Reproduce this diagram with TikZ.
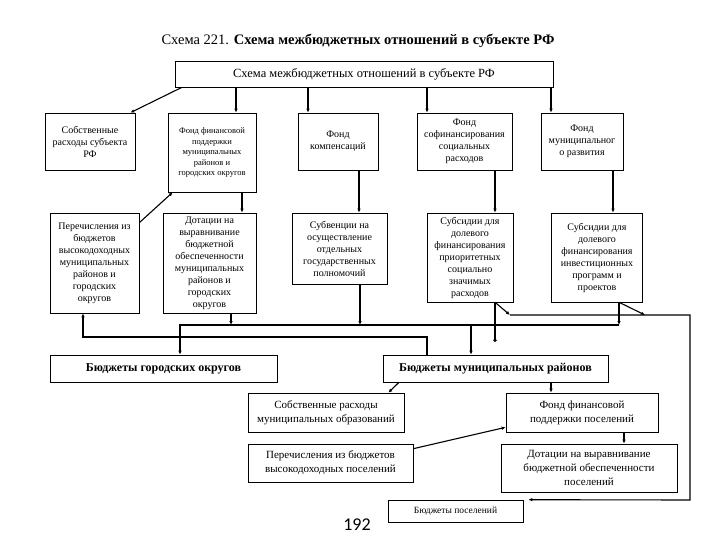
\documentclass[tikz,border=0pt]{standalone}
\usepackage{fontspec}
\setmainfont{Liberation Serif}
\newfontfamily\pagefont{Carlito}
\usetikzlibrary{arrows.meta}
\begin{document}
\begin{tikzpicture}[x=1pt,y=-1pt]
	\tikzstyle{box}=[draw, line width=0.6pt, align=center, inner sep=1pt, font=\fontsize{10}{12}\selectfont]
	\tikzstyle{arr}=[line width=1.1pt, -{Latex[length=4pt,width=3.5pt]}]
	\tikzstyle{line}=[line width=1.1pt]
	\useasboundingbox (0,0) rectangle (720,540);
	\node[font=\fontsize{14.5}{17}\selectfont] (title) at (358,41) {Схема 221. \textbf{Схема межбюджетных отношений в субъекте РФ}};
	\node[box, minimum width=378pt, minimum height=26pt, font=\fontsize{12.5}{14}\selectfont] (shema) at (364,74) {Схема межбюджетных отношений в субъекте РФ};
	% first row
	\node[box, minimum width=90pt, minimum height=57pt] (sobst) at (90,141.5) {Собственные\\расходы субъекта\\РФ};
	\node[box, minimum width=88pt, minimum height=79pt, font=\fontsize{8.5}{10.5}\selectfont] (ffpmr) at (212,152.5) {Фонд финансовой\\поддержки\\муниципальных\\районов и\\городских округов};
	\node[box, minimum width=80pt, minimum height=57pt] (fk) at (338,141.5) {Фонд\\компенсаций};
	\node[box, minimum width=95pt, minimum height=57pt] (fsr) at (464.5,141.5) {Фонд\\софинансирования\\социальных\\расходов};
	\node[box, minimum width=82pt, minimum height=57pt] (fmr) at (582,141.5) {Фонд\\муниципальног\\о развития};
	% second row
	\node[box, minimum width=89pt, minimum height=100pt] (perech) at (94.5,263) {Перечисления из\\бюджетов\\высокодоходных\\муниципальных\\районов и\\городских\\округов};
	\node[box, minimum width=93pt, minimum height=100pt] (dot) at (209.5,263) {Дотации на\\выравнивание\\бюджетной\\обеспеченности\\муниципальных\\районов и\\городских\\округов};
	\node[box, minimum width=95pt, minimum height=71pt] (subv) at (339.5,248.5) {Субвенции на\\осуществление\\отдельных\\государственных\\полномочий};
	\node[box, minimum width=86pt, minimum height=89pt] (subsoc) at (470,257.5) {Субсидии для\\долевого\\финансирования\\приоритетных\\социально\\значимых\\расходов};
	\node[box, minimum width=91pt, minimum height=89pt] (subinv) at (597,257.5) {Субсидии для\\долевого\\финансирования\\инвестиционных\\программ и\\проектов};
	% budgets
	\node[box, minimum width=227pt, minimum height=27pt, font=\fontsize{12}{14}\selectfont\bfseries] (bgo) at (163.5,368.5) {Бюджеты городских округов};
	\node[box, minimum width=225pt, minimum height=27pt, font=\fontsize{12}{14}\selectfont\bfseries] (bmr) at (495.5,368.5) {Бюджеты муниципальных районов};
	\node[box, minimum width=156pt, minimum height=39pt, font=\fontsize{11}{14}\selectfont] (srmo) at (326,412.5) {Собственные расходы\\муниципальных образований};
	\node[box, minimum width=152pt, minimum height=39pt, font=\fontsize{11}{14}\selectfont] (ffpp) at (582,412.5) {Фонд финансовой\\поддержки поселений};
	\node[box, minimum width=165pt, minimum height=38pt, font=\fontsize{11}{14}\selectfont] (perpos) at (330.5,463) {Перечисления из бюджетов\\высокодоходных поселений};
	\node[box, minimum width=176pt, minimum height=48pt, font=\fontsize{11}{14}\selectfont] (dotpos) at (589,468) {Дотации на выравнивание\\бюджетной обеспеченности\\поселений};
	\node[box, minimum width=135pt, minimum height=22pt, font=\fontsize{9.5}{10}\selectfont] (bpos) at (455.5,511) {Бюджеты поселений};
	\node[font=\pagefont\fontsize{18}{20}\selectfont] (page) at (357,525) {192};
	% junctions
	\coordinate (sbor) at (619,325);
	\coordinate (vozvr) at (427,337);
	\coordinate (soc) at (510,315);
	\coordinate (inv) at (645,315);
	\coordinate (tochka) at (495,342);
	% from the top box
	\draw[arr] (182,0 |- shema.south) -- ([xshift=-5pt]sobst.north east);
	\draw[arr] (236,0 |- shema.south) -- (236,0 |- ffpmr.north);
	\draw[arr] (308,0 |- shema.south) -- (308,0 |- fk.north);
	\draw[arr] (427,0 |- shema.south) -- (427,0 |- fsr.north);
	\draw[arr] (551,0 |- shema.south) -- (551,0 |- fmr.north);
	% first row to second row
	\draw[arr] ([yshift=-10pt]perech.north east) -- ([xshift=5pt]ffpmr.south west);
	\draw[arr] (242,0 |- ffpmr.south) -- (242,0 |- dot.north);
	\draw[arr] (359,0 |- fk.south) -- (359,0 |- subv.north);
	\draw[arr] (495,0 |- fsr.south) -- (495,0 |- subsoc.north);
	\draw[arr] (613,0 |- fmr.south) -- (613,0 |- subinv.north);
	% second row to budgets
	\draw[arr] (619,0 |- subinv.south) -- (sbor);
	\draw[arr] (sbor) -- (180,0 |- sbor) -- (180,0 |- bgo.north);
	\draw[arr] (231,0 |- dot.south) -- (231,0 |- sbor);
	\draw[arr] (360,0 |- subv.south) -- (360,0 |- sbor);
	\draw[arr] (471,0 |- sbor) -- (471,0 |- bmr.north);
	\draw[arr] (vozvr |- bmr.north) -- (vozvr) -- (83,0 |- vozvr) -- (83,0 |- perech.south);
	\draw[line, -{Circle[length=3.5pt]}] (495,0 |- subsoc.south) -- (tochka);
	\draw[arr] (495,0 |- subsoc.south) -- (soc);
	\draw[arr] (619,0 |- subinv.south) -- (inv);
	\draw[arr] (soc) -- (690,0 |- soc) -- (690,500) -- ([xshift=5pt]bpos.north east);
	% district budgets
	\draw[arr] (399,0 |- bmr.south) -- ([xshift=-16pt]srmo.north east);
	\draw[arr] (551,0 |- bmr.south) -- (551,0 |- ffpp.north);
	\draw[arr] (624,0 |- ffpp.south) -- (624,0 |- dotpos.north);
	\draw[arr] ([yshift=-5pt]perpos.north east) -- ([yshift=5pt]ffpp.south west);
\end{tikzpicture}
\end{document}
